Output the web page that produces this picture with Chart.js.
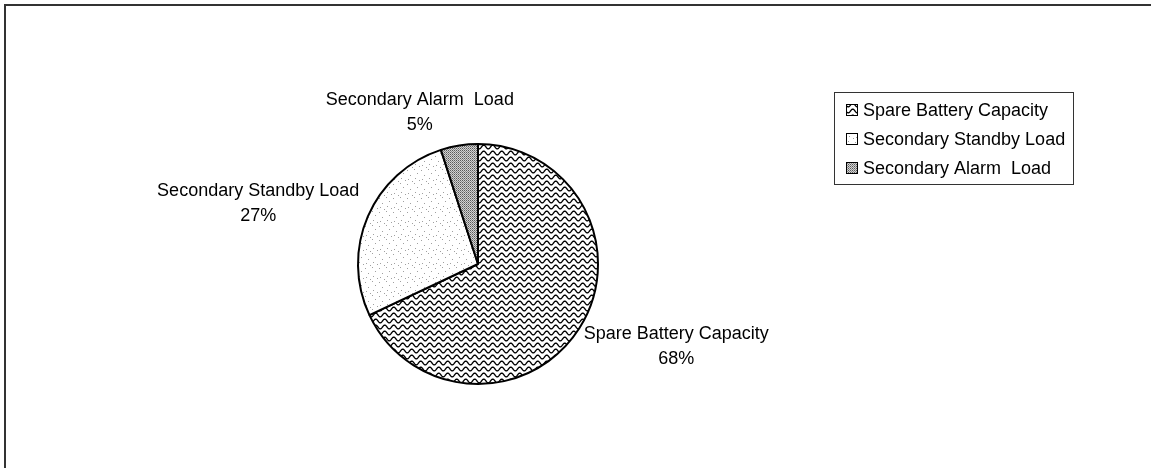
<!DOCTYPE html>
<html>
<head>
<meta charset="utf-8">
<script src="https://cdn.jsdelivr.net/npm/chart.js@4/dist/chart.umd.min.js"></script>
<style>
  html, body { margin: 0; padding: 0; background: #fff; }
  #wrap { width: 1151px; height: 468px; position: relative; }
</style>
</head>
<body>
<div id="wrap"><canvas id="myChart" width="1151" height="468"></canvas></div>
<script>
var labels = ['Spare Battery Capacity', 'Secondary Standby Load', 'Secondary Alarm  Load'];
var values = [68, 27, 5];

var FONT = '18px "Liberation Sans", Arial, sans-serif';

// fill textures
function makeTile(w, h, draw) {
    var c = document.createElement('canvas');
    c.width = w; c.height = h;
    var g = c.getContext('2d');
    g.fillStyle = '#fff';
    g.fillRect(0, 0, w, h);
    draw(g);
    return c;
}

var waveTile = makeTile(9, 6, function (g) {
    g.strokeStyle = '#000';
    g.lineWidth = 1.3;
    g.beginPath();
    for (var x = -1; x <= 10; x += 0.5) {
        var y = 3 + 1.9 * Math.sin(2 * Math.PI * x / 9);
        if (x === -1) g.moveTo(x, y); else g.lineTo(x, y);
    }
    g.stroke();
});

var dotTile = makeTile(14, 14, function (g) {
    g.fillStyle = '#a0a0a0';
    var pts = [[1, 2], [8, 1], [4, 7], [11, 5], [2, 11], [9, 10], [13, 12], [6, 13]];
    pts.forEach(function (p) { g.fillRect(p[0], p[1], 1, 1); });
});

var ditherTile = makeTile(2, 2, function (g) {
    g.fillStyle = '#d2d2d2';
    g.fillRect(0, 0, 2, 2);
    g.fillStyle = '#5a5a5a';
    g.fillRect(0, 0, 1, 1);
    g.fillStyle = '#8c8c8c';
    g.fillRect(1, 1, 1, 1);
});

var ctx = document.getElementById('myChart').getContext('2d');
var fills = [
    ctx.createPattern(waveTile, 'repeat'),
    ctx.createPattern(dotTile, 'repeat'),
    ctx.createPattern(ditherTile, 'repeat')
];

// frame, outside labels and legend box
var decor = {
    id: 'decor',
    beforeDraw: function (chart) {
        var c = chart.ctx;
        c.save();
        c.strokeStyle = '#333';
        c.lineWidth = 2;
        c.beginPath();
        c.moveTo(5, chart.height);
        c.lineTo(5, 5);
        c.lineTo(chart.width, 5);
        c.stroke();
        c.restore();
    },
    afterDatasetsDraw: function (chart) {
        var c = chart.ctx;
        var arcs = chart.getDatasetMeta(0).data;
        var total = values.reduce(function (a, b) { return a + b; }, 0);
        c.save();
        c.font = FONT;
        c.fillStyle = '#000';
        c.textAlign = 'center';
        c.textBaseline = 'middle';
        arcs.forEach(function (arc, i) {
            var mid = (arc.startAngle + arc.endAngle) / 2;
            var dx = Math.cos(mid), dy = Math.sin(mid);
            var r = arc.outerRadius + 14;
            var ax = arc.x + dx * r, ay = arc.y + dy * r;
            var pct = Math.round(values[i] / total * 100) + '%';
            var w = c.measureText(labels[i]).width;
            // push the text block outward so it clears the rim
            var cx = ax + Math.sign(dx) * Math.sqrt(Math.abs(dx)) * w / 2;
            var cy = ay + dy * 20;
            c.fillText(labels[i], cx, cy - 12);
            c.fillText(pct, cx, cy + 13);
        });

        // legend
        var lx = 834, ly = 92, lw = 239, lh = 92;
        c.strokeStyle = '#333';
        c.lineWidth = 1;
        c.strokeRect(lx + 0.5, ly + 0.5, lw, lh);
        c.textAlign = 'left';
        labels.forEach(function (lab, i) {
            var y = 110 + i * 29;
            c.fillStyle = fills[i];
            c.fillRect(846, y - 6, 12, 12);
            c.strokeStyle = '#000';
            c.lineWidth = 1;
            c.strokeRect(846.5, y - 5.5, 11, 11);
            c.fillStyle = '#000';
            c.fillText(lab, 863, y + 1);
        });
        c.restore();
    }
};

var myChart = new Chart(ctx, {
    type: 'pie',
    data: {
        labels: labels,
        datasets: [{
            data: values,
            backgroundColor: fills,
            borderColor: '#000',
            borderWidth: 2
        }]
    },
    options: {
        responsive: false,
        animation: false,
        radius: 120,
        layout: {
            padding: { left: 358, right: 553, top: 144, bottom: 84 }
        },
        plugins: {
            legend: { display: false },
            tooltip: { enabled: false }
        }
    },
    plugins: [decor]
});
</script>
</body>
</html>
